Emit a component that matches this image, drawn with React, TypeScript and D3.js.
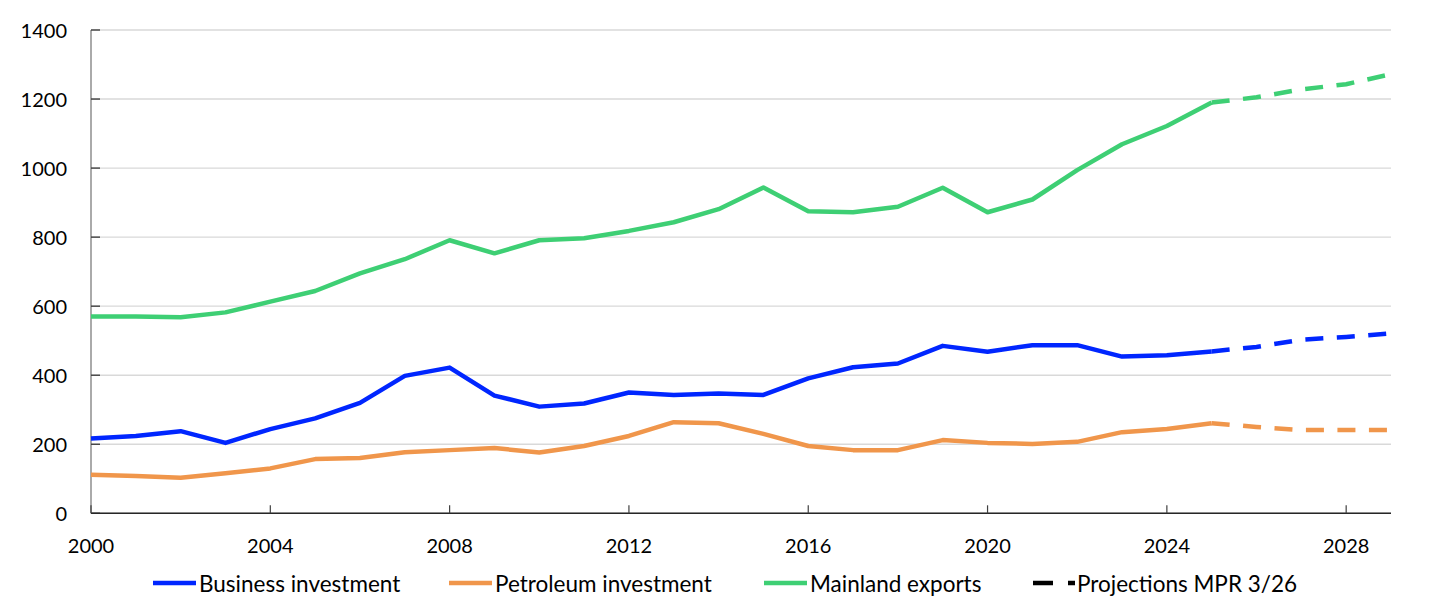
import { useMemo } from 'react';
import * as d3 from 'd3';

// Annual series, actuals 2000–2025, projections 2025–2029
const years = [2000, 2001, 2002, 2003, 2004, 2005, 2006, 2007, 2008, 2009, 2010, 2011, 2012,
  2013, 2014, 2015, 2016, 2017, 2018, 2019, 2020, 2021, 2022, 2023, 2024, 2025];
const projYears = [2025, 2026, 2027, 2028, 2029];

const businessInvestment = [217, 224, 238, 204, 244, 275, 320, 398, 422, 341, 309, 318, 350,
  343, 347, 343, 391, 423, 434, 485, 468, 487, 487, 454, 458, 469];
const businessProj = [469, 482, 503, 511, 521];

const petroleumInvestment = [112, 108, 103, 116, 130, 157, 160, 177, 183, 189, 176, 195, 224,
  264, 261, 230, 195, 183, 183, 212, 204, 201, 207, 235, 244, 261];
const petroleumProj = [261, 250, 241, 241, 241];

const mainlandExports = [570, 570, 568, 582, 613, 644, 695, 736, 791, 753, 791, 797, 818,
  843, 881, 944, 875, 872, 888, 943, 872, 909, 994, 1069, 1122, 1190];
const mainlandProj = [1190, 1205, 1228, 1243, 1272];

const yTickValues = [0, 200, 400, 600, 800, 1000, 1200, 1400];
const xTickValues = [2000, 2004, 2008, 2012, 2016, 2020, 2024, 2028];

const seriesNames = ['Business investment', 'Petroleum investment', 'Mainland exports'];
const projectionLabel = 'Projections MPR 3/26';

const COLORS = ['#0026ff', '#f0964b', '#3ecf74'];

const W = 1445;
const H = 615;
const PLOT = { left: 91, right: 1391, top: 30, bottom: 513.3 };
const FONT = 'Lato, "Open Sans", sans-serif';
const LINE_W = 4.5;
const DASH = '18,13.5';

export default function App() {
  const chart = useMemo(() => {
    const x = d3.scaleLinear().domain([2000, 2029]).range([PLOT.left, PLOT.right]);
    const y = d3.scaleLinear().domain([0, 1400]).range([PLOT.bottom, PLOT.top]);
    const line = d3.line<[number, number]>()
      .x((d) => x(d[0]))
      .y((d) => y(d[1]));
    const actual = [businessInvestment, petroleumInvestment, mainlandExports].map((vals) =>
      line(vals.map((v, i) => [years[i], v])) ?? ''
    );
    const proj = [businessProj, petroleumProj, mainlandProj].map((vals) =>
      line(vals.map((v, i) => [projYears[i], v])) ?? ''
    );
    return { x, y, actual, proj };
  }, []);

  const { x, y } = chart;

  // legend item starts (swatch left edge)
  const legendX = [153, 449, 764];
  const legendY = 583;

  return (
    <svg
      width={W}
      height={H}
      viewBox={`0 0 ${W} ${H}`}
      style={{ position: 'absolute', left: 0, top: 0, background: '#fff', display: 'block' }}
    >
      {/* Grid lines */}
      {yTickValues.map((v) => (
        <line
          key={`g${v}`}
          x1={PLOT.left} x2={PLOT.right} y1={y(v)} y2={y(v)}
          stroke="#d9d9d9"
          strokeWidth={1.4}
        />
      ))}

      {/* Y axis */}
      <line x1={PLOT.left} x2={PLOT.left} y1={PLOT.top} y2={PLOT.bottom} stroke="#868686" strokeWidth={1.4} />
      {yTickValues.map((v) => (
        <g key={`y${v}`}>
          <line x1={PLOT.left} x2={PLOT.left + 9} y1={y(v)} y2={y(v)} stroke="#404040" strokeWidth={1.4} />
          <text
            x={67} y={y(v)}
            textAnchor="end"
            dominantBaseline="central"
            fontSize={20}
            fontFamily={FONT}
            fill="#000"
          >
            {v}
          </text>
        </g>
      ))}

      {/* X axis */}
      <line x1={PLOT.left} x2={PLOT.right} y1={PLOT.bottom} y2={PLOT.bottom} stroke="#262626" strokeWidth={1.4} />
      {xTickValues.map((v) => (
        <g key={`x${v}`}>
          <line x1={x(v)} x2={x(v)} y1={PLOT.bottom} y2={PLOT.bottom - 8} stroke="#404040" strokeWidth={1.2} />
          <text
            x={x(v)} y={545}
            textAnchor="middle"
            dominantBaseline="central"
            fontSize={20}
            fontFamily={FONT}
            fill="#000"
          >
            {v}
          </text>
        </g>
      ))}

      {/* Series */}
      {chart.actual.map((d, i) => (
        <path
          key={`a${i}`}
          d={d}
          fill="none"
          stroke={COLORS[i]}
          strokeWidth={LINE_W}
          strokeLinejoin="round"
        />
      ))}
      {chart.proj.map((d, i) => (
        <path
          key={`p${i}`}
          d={d}
          fill="none"
          stroke={COLORS[i]}
          strokeWidth={LINE_W}
          strokeDasharray={DASH}
        />
      ))}

      {/* Legend */}
      {seriesNames.map((name, i) => (
        <g key={name}>
          <line
            x1={legendX[i]} x2={legendX[i] + 43}
            y1={legendY} y2={legendY}
            stroke={COLORS[i]}
            strokeWidth={LINE_W}
          />
          <text
            x={legendX[i] + 46} y={legendY}
            dominantBaseline="central"
            fontSize={22.5}
            fontFamily={FONT}
            fill="#000"
          >
            {name}
          </text>
        </g>
      ))}
      <g>
        <line
          x1={1033} x2={1075}
          y1={legendY} y2={legendY}
          stroke="#000"
          strokeWidth={LINE_W}
          strokeDasharray="20,15"
        />
        <text
          x={1077} y={legendY}
          dominantBaseline="central"
          fontSize={22.5}
          fontFamily={FONT}
          fill="#000"
        >
          {projectionLabel}
        </text>
      </g>
    </svg>
  );
}
